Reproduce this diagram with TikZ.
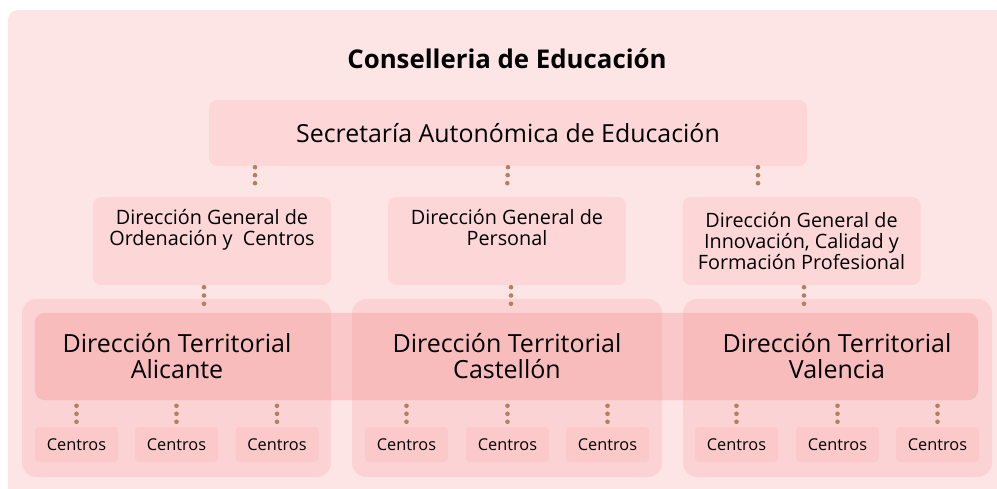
\documentclass[tikz,border=0pt]{standalone}
\usepackage{fontspec}
\setmainfont{Open Sans}
\usetikzlibrary{calc}
\definecolor{bgpink}{RGB}{253,229,230}
\definecolor{boxpink}{RGB}{253,215,216}
\definecolor{cenpink}{RGB}{251,201,202}
\definecolor{grppink}{RGB}{248,150,150}
\definecolor{dotbrown}{RGB}{181,128,95}
\tikzset{
  pbox/.style={draw=none, fill=boxpink, rounded corners=8pt, inner sep=0pt},
  grpbox/.style={draw=none, fill=grppink, fill opacity=0.22, rounded corners=14pt, inner sep=0pt},
  bandbox/.style={draw=grppink!80!white, draw opacity=0.4, fill=grppink, fill opacity=0.36, rounded corners=10pt, inner sep=0pt},
  cbox/.style={pbox, fill=cenpink, rounded corners=4pt, minimum width=83pt, minimum height=35pt, font=\fontsize{16.3}{18}\selectfont},
  dgbox/.style={pbox, minimum width=238pt, minimum height=88pt, align=center, font=\fontsize{19.8}{21}\selectfont},
  dotline/.style={draw=dotbrown, line width=4.6pt, line cap=round, dash pattern=on 0pt off 7.99pt},
  dotlineb/.style={draw=dotbrown, line width=4.6pt, line cap=round, dash pattern=on 0pt off 8.3pt},
  terrtxt/.style={align=center, font=\fontsize{25}{26}\selectfont, inner sep=0pt}
}
\begin{document}
\begin{tikzpicture}[x=1pt,y=-1pt]
\useasboundingbox (0,0) rectangle (997,488);
\clip (0,0) rectangle (997,488);
\fill[bgpink, rounded corners=10pt] (8,10) rectangle (1020,510);
\node[font=\bfseries\fontsize{25.8}{28}\selectfont, inner sep=0pt] (title) at (507,59) {Conselleria de Educación};
\node[pbox, minimum width=598pt, minimum height=66pt, font=\fontsize{24.9}{28}\selectfont] (sec) at (508,133) {Secretaría Autonómica de Educación};
\node[dgbox] (dg1) at (212,241) {Dirección General de\\Ordenación y\ \ Centros\\\strut};
\node[dgbox] (dg2) at (507,241) {Dirección General de\\Personal\\\strut};
\node[dgbox] (dg3) at (801.5,241) {Dirección General de\\Innovación, Calidad y\\Formación Profesional};
% groups
\node[grpbox, minimum width=309pt, minimum height=178pt] (g1) at (176.5,388) {};
\node[grpbox, minimum width=310pt, minimum height=178pt] (g2) at (507,388) {};
\node[grpbox, minimum width=309pt, minimum height=178pt] (g3) at (837.5,388) {};
% band
\node[bandbox, minimum width=943pt, minimum height=87pt] (band) at (506.5,356.5) {};
\node[terrtxt] (ta) at (177,356) {Dirección Territorial\\Alicante};
\node[terrtxt] (tc) at (507,356) {Dirección Territorial\\Castellón};
\node[terrtxt] (tv) at (837,356) {Dirección Territorial\\Valencia};
% centros
\foreach \n/\x in {a1/76.5,a2/176.5,a3/277,c1/406.5,c2/507.5,c3/607.5,v1/736.5,v2/837.5,v3/937.5}{
  \node[cbox] (\n) at (\x,444.5) {Centros};
  \draw[dotline] ($(\n.north)+(0,-21)$) -- ($(\n.north)+(0,-5)$);
}
% connectors
\draw[dotline] ($(sec.south)+(-253,1)$) -- ($(dg1.north)+(43,-6)$);
\draw[dotline] ($(sec.south)+(0,1)$) -- ($(dg2.north)+(0,-6)$);
\draw[dotline] ($(sec.south)+(250,1)$) -- ($(dg3.north)+(-43.5,-6)$);
\draw[dotlineb] ($(dg1.south)+(-8,2)$) -- ($(dg1.south|-band.north)+(-8,-1)$);
\draw[dotlineb] ($(dg2.south)+(4,2)$) -- ($(dg2.south|-band.north)+(4,-1)$);
\draw[dotlineb] ($(dg3.south)+(2.5,2)$) -- ($(dg3.south|-band.north)+(2.5,-1)$);
\end{tikzpicture}
\end{document}
